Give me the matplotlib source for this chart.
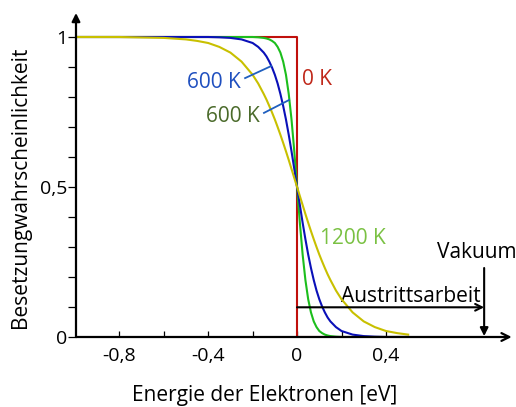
import matplotlib
matplotlib.use("Agg")
import matplotlib.pyplot as plt

plt.rcParams['font.family'] = ['Open Sans', 'DejaVu Sans']

# Energies (eV) and occupation probabilities
energy = [-0.995, -0.8, -0.6, -0.5, -0.45, -0.4, -0.35, -0.3, -0.25, -0.2, -0.175,
          -0.15, -0.1375, -0.125, -0.1125, -0.1, -0.0875, -0.075, -0.0625, -0.05,
          -0.0375, -0.025, -0.0125, 0.0,
          0.0125, 0.025, 0.0375, 0.05, 0.0625, 0.075, 0.0875, 0.1, 0.1125, 0.125,
          0.1375, 0.15, 0.175, 0.2, 0.25, 0.3, 0.35, 0.4, 0.45, 0.5]

green_300 = [1.0, 1.0, 1.0, 1.0, 1.0, 1.0, 1.0, 1.0, 1.0, 1.0, 0.999,
             0.997, 0.995, 0.992, 0.987, 0.980, 0.967, 0.948, 0.918, 0.874,
             0.810, 0.725, 0.619, 0.5,
             0.381, 0.275, 0.190, 0.126, 0.082, 0.052, 0.033, 0.020, 0.013, 0.008,
             0.005, 0.003, 0.001, 0.0, 0.0, 0.0, 0.0, 0.0, 0.0, 0.0]

blue_600 = [1.0, 1.0, 1.0, 1.0, 1.0, 1.0, 0.999, 0.997, 0.992, 0.980, 0.967,
            0.948, 0.935, 0.918, 0.898, 0.874, 0.845, 0.810, 0.770, 0.725,
            0.674, 0.619, 0.560, 0.5,
            0.440, 0.381, 0.326, 0.275, 0.230, 0.190, 0.155, 0.126, 0.102, 0.082,
            0.065, 0.052, 0.033, 0.020, 0.008, 0.003, 0.001, 0.0, 0.0, 0.0]

yellow_1200 = [1.0, 1.0, 0.997, 0.992, 0.987, 0.980, 0.967, 0.948, 0.918, 0.874, 0.845,
               0.810, 0.791, 0.770, 0.748, 0.725, 0.700, 0.674, 0.647, 0.619,
               0.590, 0.560, 0.530, 0.5,
               0.470, 0.440, 0.410, 0.381, 0.353, 0.326, 0.300, 0.275, 0.252, 0.230,
               0.209, 0.190, 0.155, 0.126, 0.082, 0.052, 0.033, 0.020, 0.013, 0.008]

red_energy = [-0.995, 0.0, 0.0, 0.5]
red_0 = [1.0, 1.0, 0.0, 0.0]

vacuum_level = 0.842
work_arrow_y = 0.099

xtick_pos = [-0.8, -0.6, -0.4, -0.2, 0.0, 0.2, 0.4]
xtick_lab = ['-0,8', '', '-0,4', '', '0', '', '0,4']
ytick_pos = [0.0, 0.1, 0.2, 0.3, 0.4, 0.5, 0.6, 0.7, 0.8, 0.9, 1.0]
ytick_lab = ['0', '', '', '', '', '0,5', '', '', '', '', '1']

fig = plt.figure(figsize=(5.16, 4.07), dpi=100)
ax = fig.add_axes([76/516, (407-337)/407, (511.7-76)/516, (337-13)/407])
ax.set_xlim(-0.995, 0.966)
ax.set_ylim(0, 1.08)

lw = 1.5
ax.plot(red_energy, red_0, color='#c0100c', lw=lw, zorder=2)
ax.plot(energy, green_300, color='#1cbe1c', lw=lw, zorder=3)
ax.plot(energy, blue_600, color='#0a10b8', lw=lw, zorder=4)
ax.plot(energy, yellow_1200, color='#c8c000', lw=lw, zorder=5)

for s in ['top', 'right', 'left', 'bottom']:
    ax.spines[s].set_visible(False)

# axes with arrows
ax.annotate('', xy=(1.0, 0), xytext=(0, 0), xycoords='axes fraction',
            arrowprops=dict(arrowstyle='->', lw=1.6, color='black',
                            mutation_scale=14, shrinkA=0, shrinkB=0), zorder=6)
ax.annotate('', xy=(0, 1.0), xytext=(0, 0), xycoords='axes fraction',
            arrowprops=dict(arrowstyle='-|>', lw=1.6, color='black',
                            mutation_scale=12, shrinkA=0, shrinkB=0), zorder=6)

ax.set_xticks(xtick_pos)
ax.set_xticklabels(xtick_lab)
ax.set_yticks(ytick_pos)
ax.set_yticklabels(ytick_lab)
ax.tick_params(axis='x', direction='in', length=4, width=0.9, pad=7, labelsize=14)
ax.tick_params(axis='y', direction='out', length=5.5, width=0.9, pad=1, labelsize=14)

fs = 15
# labels
ax.text(-0.255, 0.829, '600 K', color='#1f4fbf', fontsize=fs, ha='right', va='baseline')
ax.plot([-0.234, -0.117], [0.863, 0.903], color='#1f5fbf', lw=1.3, zorder=6)
ax.text(-0.167, 0.718, '600 K', color='#4a6a2a', fontsize=fs, ha='right', va='baseline')
ax.plot([-0.149, -0.036], [0.747, 0.79], color='#1f5fbf', lw=1.3, zorder=6)
ax.text(0.0225, 0.84, '0 K', color='#c0281a', fontsize=fs, ha='left', va='baseline')
ax.text(0.1035, 0.309, '1200 K', color='#7ac143', fontsize=fs, ha='left', va='baseline')
ax.text(0.63, 0.262, 'Vakuum', color='black', fontsize=fs, ha='left', va='baseline')
ax.text(0.197, 0.118, 'Austrittsarbeit', color='black', fontsize=fs, ha='left', va='baseline')

ax.annotate('', xy=(vacuum_level, work_arrow_y), xytext=(0.0, work_arrow_y),
            arrowprops=dict(arrowstyle='->', lw=1.5, color='black',
                            mutation_scale=12, shrinkA=0, shrinkB=0), zorder=7)
ax.annotate('', xy=(vacuum_level, 0.003), xytext=(vacuum_level, 0.23),
            arrowprops=dict(arrowstyle='-|>', lw=1.5, color='black',
                            mutation_scale=12, shrinkA=0, shrinkB=0), zorder=7)

fig.text(264.5/516, (407-401)/407, 'Energie der Elektronen [eV]', fontsize=fs,
         ha='center', va='baseline')
fig.text(21/516, 1 - 187.5/407, 'Besetzungwahrscheinlichkeit', fontsize=fs,
         rotation=90, ha='center', va='center')

fig.savefig('out.png', dpi=100)
